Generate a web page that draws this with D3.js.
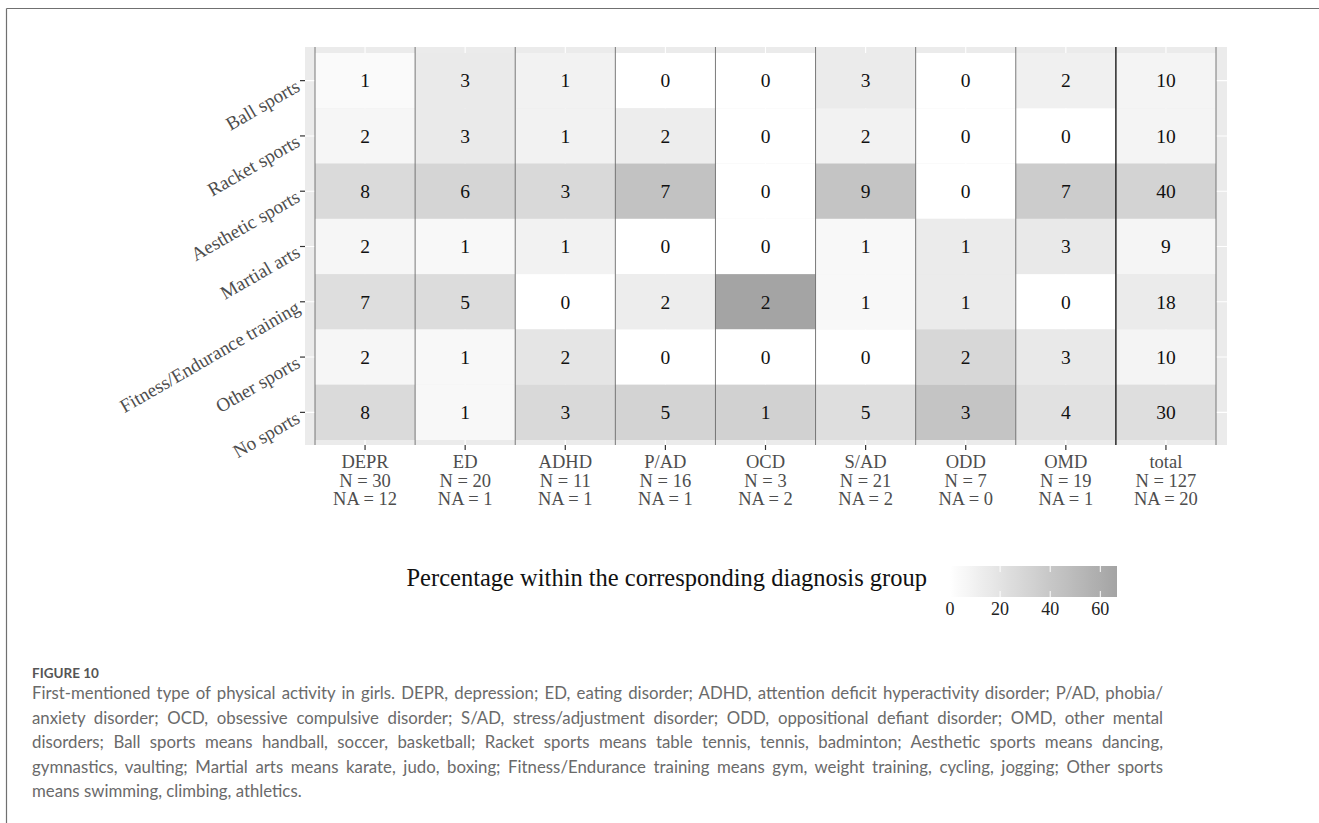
<!DOCTYPE html>
<html>
<head>
<meta charset="utf-8">
<script src="https://cdn.jsdelivr.net/npm/d3@7"></script>
<style>
  html, body { margin: 0; padding: 0; background: #ffffff; }
  svg { display: block; }
</style>
</head>
<body>
<svg id="fig" width="1319" height="823"></svg>
<script>
// Diagnosis groups (columns) and first-mentioned sport types (rows)
const groups = ["DEPR", "ED", "ADHD", "P/AD", "OCD", "S/AD", "ODD", "OMD", "total"];
const sports = ["Ball sports", "Racket sports", "Aesthetic sports", "Martial arts",
                "Fitness/Endurance training", "Other sports", "No sports"];

// Counts per group, in the order of `sports`
const countsDEPR  = [1, 2, 8, 2, 7, 2, 8];
const countsED    = [3, 3, 6, 1, 5, 1, 1];
const countsADHD  = [1, 1, 3, 1, 0, 2, 3];
const countsPAD   = [0, 2, 7, 0, 2, 0, 5];
const countsOCD   = [0, 0, 0, 0, 2, 0, 1];
const countsSAD   = [3, 2, 9, 1, 1, 0, 5];
const countsODD   = [0, 0, 0, 1, 1, 2, 3];
const countsOMD   = [2, 0, 7, 3, 0, 3, 4];
const countsTotal = [10, 10, 40, 9, 18, 10, 30];

const groupN  = [30, 20, 11, 16, 3, 21, 7, 19, 127];
const groupNA = [12, 1, 1, 1, 2, 2, 0, 1, 20];

const legendTicks = [0, 20, 40, 60];
const legendTitle = "Percentage within the corresponding diagnosis group";

const figureLabel = "FIGURE 10";
const captionLines = [
  "First-mentioned type of physical activity in girls. DEPR, depression; ED, eating disorder; ADHD, attention deficit hyperactivity disorder; P/AD, phobia/",
  "anxiety disorder; OCD, obsessive compulsive disorder; S/AD, stress/adjustment disorder; ODD, oppositional defiant disorder; OMD, other mental",
  "disorders; Ball sports means handball, soccer, basketball; Racket sports means table tennis, tennis, badminton; Aesthetic sports means dancing,",
  "gymnastics, vaulting; Martial arts means karate, judo, boxing; Fitness/Endurance training means gym, weight training, cycling, jogging; Other sports",
  "means swimming, climbing, athletics."
];

// ---- build the cell table ----
const countsByGroup = [countsDEPR, countsED, countsADHD, countsPAD, countsOCD,
                       countsSAD, countsODD, countsOMD, countsTotal];
const cells = [];
groups.forEach((g, gi) => {
  sports.forEach((s, si) => {
    const n = countsByGroup[gi][si];
    cells.push({ group: g, sport: s, count: n, pct: 100 * n / groupN[gi] });
  });
});
const maxPct = d3.max(cells, d => d.pct);

const serif = "'Liberation Serif', 'DejaVu Serif', 'Times New Roman', serif";
const svg = d3.select("#fig");

// frame lines of the figure box
svg.append("line").attr("x1", 6.5).attr("x2", 1319).attr("y1", 8.5).attr("y2", 8.5)
  .attr("stroke", "#707070").attr("stroke-width", 1.2);
svg.append("line").attr("x1", 6.5).attr("x2", 6.5).attr("y1", 8.5).attr("y2", 823)
  .attr("stroke", "#707070").attr("stroke-width", 1.2);

// ---- scales ----
const panel = { x0: 305, x1: 1227, y0: 47, y1: 445 };
const x = d3.scaleBand().domain(groups).range([315, 1216]);
const y = d3.scaleBand().domain(sports).range([53, 440]);
const color = d3.scaleLinear().domain([0, maxPct])
  .range(["#ffffff", "#a4a4a4"]).interpolate(d3.interpolateLab);

// panel background and grid
svg.append("rect").attr("x", panel.x0).attr("y", panel.y0)
  .attr("width", panel.x1 - panel.x0).attr("height", panel.y1 - panel.y0)
  .attr("fill", "#ebebeb");
const grid = svg.append("g").attr("stroke", "#ffffff").attr("stroke-width", 1.1);
grid.selectAll("line.gx").data(groups).join("line")
  .attr("x1", d => x(d) + x.bandwidth() / 2).attr("x2", d => x(d) + x.bandwidth() / 2)
  .attr("y1", panel.y0).attr("y2", panel.y1);
grid.selectAll("line.gy").data(sports).join("line")
  .attr("y1", d => y(d) + y.bandwidth() / 2).attr("y2", d => y(d) + y.bandwidth() / 2)
  .attr("x1", panel.x0).attr("x2", panel.x1);

// tiles
svg.append("g").selectAll("rect").data(cells).join("rect")
  .attr("x", d => x(d.group)).attr("y", d => y(d.sport))
  .attr("width", x.bandwidth()).attr("height", y.bandwidth())
  .attr("fill", d => color(d.pct));

// column separators, the one before the total column is stronger
const seps = d3.range(groups.length + 1);
svg.append("g").selectAll("line").data(seps).join("line")
  .attr("x1", i => i < groups.length ? x(groups[i]) : x(groups[groups.length - 1]) + x.bandwidth())
  .attr("x2", i => i < groups.length ? x(groups[i]) : x(groups[groups.length - 1]) + x.bandwidth())
  .attr("y1", panel.y0).attr("y2", panel.y1)
  .attr("stroke", i => i === groups.length - 1 ? "#1a1a1a" : "#5a5a5a")
  .attr("stroke-width", i => i === groups.length - 1 ? 1.4 : 0.8);

// counts in cells
svg.append("g").selectAll("text").data(cells).join("text")
  .attr("x", d => x(d.group) + x.bandwidth() / 2)
  .attr("y", d => y(d.sport) + y.bandwidth() / 2)
  .attr("dy", "0.35em").attr("text-anchor", "middle")
  .attr("font-family", serif).attr("font-size", 19.5).attr("fill", "#111")
  .text(d => d.count);

// ---- y axis: ticks and rotated labels ----
const yAxis = svg.append("g");
yAxis.selectAll("line").data(sports).join("line")
  .attr("x1", panel.x0 - 5).attr("x2", panel.x0)
  .attr("y1", d => y(d) + y.bandwidth() / 2).attr("y2", d => y(d) + y.bandwidth() / 2)
  .attr("stroke", "#333").attr("stroke-width", 1.2);
yAxis.selectAll("text").data(sports).join("text")
  .attr("transform", d => `translate(${panel.x0 - 8},${y(d) + y.bandwidth() / 2 + 2}) rotate(-30)`)
  .attr("text-anchor", "end").attr("dy", "0.45em")
  .attr("font-family", serif).attr("font-size", 19).attr("fill", "#4d4d4d")
  .text(d => d);

// ---- x axis: ticks and three-line labels ----
const xAxis = svg.append("g");
xAxis.selectAll("line").data(groups).join("line")
  .attr("x1", d => x(d) + x.bandwidth() / 2).attr("x2", d => x(d) + x.bandwidth() / 2)
  .attr("y1", panel.y1).attr("y2", panel.y1 + 5)
  .attr("stroke", "#333").attr("stroke-width", 1.2);
const xLines = [];
groups.forEach((g, i) => {
  [g, `N = ${groupN[i]}`, `NA = ${groupNA[i]}`].forEach((line, k) => {
    xLines.push({ group: g, k, line });
  });
});
xAxis.selectAll("text").data(xLines).join("text")
  .attr("x", d => x(d.group) + x.bandwidth() / 2)
  .attr("y", d => 468 + d.k * 18.5)
  .attr("text-anchor", "middle").attr("font-family", serif)
  .attr("font-size", 18.5).attr("fill", "#4d4d4d")
  .text(d => d.line);

// ---- legend ----
const lg = { x0: 950, y0: 566, h: 31 };
const lx = d3.scaleLinear().domain([0, maxPct]).range([lg.x0, lg.x0 + 167]);
const defs = svg.append("defs");
const grad = defs.append("linearGradient").attr("id", "pctGrad")
  .attr("x1", "0%").attr("x2", "100%").attr("y1", "0%").attr("y2", "0%");
d3.range(0, 1.0001, 0.05).forEach(t => {
  grad.append("stop").attr("offset", `${t * 100}%`).attr("stop-color", color(t * maxPct));
});
svg.append("rect").attr("x", lx(0)).attr("y", lg.y0)
  .attr("width", lx(maxPct) - lx(0)).attr("height", lg.h)
  .attr("fill", "url(#pctGrad)");
const lt = svg.append("g").attr("stroke", "#ffffff").attr("stroke-width", 1);
legendTicks.forEach(v => {
  lt.append("line").attr("x1", lx(v)).attr("x2", lx(v)).attr("y1", lg.y0).attr("y2", lg.y0 + 6);
  lt.append("line").attr("x1", lx(v)).attr("x2", lx(v)).attr("y1", lg.y0 + lg.h - 6).attr("y2", lg.y0 + lg.h);
});
svg.append("g").selectAll("text").data(legendTicks).join("text")
  .attr("x", d => lx(d)).attr("y", 615).attr("text-anchor", "middle")
  .attr("font-family", serif).attr("font-size", 18).attr("fill", "#222")
  .text(d => d);
svg.append("text").attr("x", 927).attr("y", 586).attr("text-anchor", "end")
  .attr("font-family", serif).attr("font-size", 24.5).attr("fill", "#111")
  .text(legendTitle);

// ---- caption ----
const capFont = "Lato, 'Open Sans', sans-serif";
svg.append("text").attr("x", 32).attr("y", 678)
  .attr("font-family", capFont).attr("font-size", 13.5).attr("font-weight", 700)
  .attr("fill", "#555").text(figureLabel);
const capLeft = 32, capRight = 1163;
captionLines.forEach((line, i) => {
  const t = svg.append("text").attr("x", capLeft).attr("y", 699 + i * 24.6)
    .attr("font-family", capFont).attr("font-size", 16.8).attr("fill", "#6a6a6a")
    .text(line);
  if (i < captionLines.length - 1) {
    const natural = t.node().getComputedTextLength();
    const spaces = (line.match(/ /g) || []).length;
    if (spaces > 0) t.attr("word-spacing", (capRight - capLeft - natural) / spaces);
  }
});
</script>
</body>
</html>
